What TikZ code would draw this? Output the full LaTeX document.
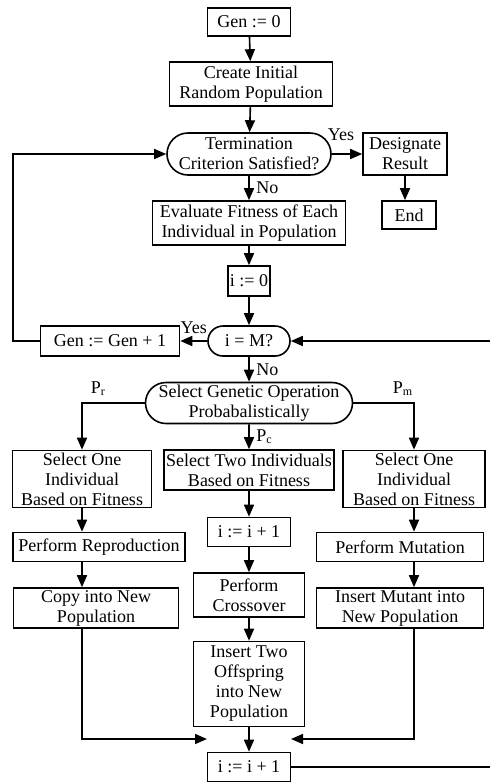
\documentclass[tikz,border=0pt]{standalone}
\usepackage{fontspec}
\setmainfont{Liberation Serif}
\usetikzlibrary{shapes.misc,arrows.meta}
\begin{document}
\begin{tikzpicture}[x=0.5pt,y=-0.5pt,
	every node/.style={font=\fontsize{9}{10}\selectfont},
	box/.style={draw,thick,align=center,inner ysep=0.5pt,inner xsep=1pt},
	term/.style={box,rounded rectangle},
	arr/.style={thick,-{Triangle[length=6pt,width=5pt]}}]
	\useasboundingbox (0,0) rectangle (490,783);
	
	% main column
	\node[box,minimum width=41.5pt,minimum height=14pt] (gen0) at (249,22) {Gen := 0};
	\node[box,minimum width=81.5pt,minimum height=22pt] (create) at (251,84) {Create Initial\\Random Population};
	\node[term,minimum width=84pt,minimum height=21pt] (term) at (249,154) {Termination\\Criterion Satisfied?};
	\node[box,minimum width=42pt,minimum height=21pt] (desig) at (405,154) {Designate\\Result};
	\node[box,minimum width=27pt,minimum height=14pt] (endn) at (409,215) {End};
	\node[box,minimum width=96.5pt,minimum height=22pt] (eval) at (249,223) {Evaluate Fitness of Each\\Individual in Population};
	\node[box,minimum width=21pt,minimum height=15pt] (izero) at (249,281) {i := 0};
	\node[term,minimum width=43pt,minimum height=15pt] (ism) at (249,341) {i = M?};
	\node[box,minimum width=69.5pt,minimum height=15pt] (genup) at (110,341) {Gen := Gen + 1};
	\node[term,minimum width=99pt,minimum height=20.5pt] (sel) at (249,403) {Select Genetic Operation\\Probabalistically};
	
	% three branches
	\node[box,minimum width=69.5pt,minimum height=28.5pt] (one1) at (82,479) {Select One\\Individual\\Based on Fitness};
	\node[box,minimum width=83.5pt,minimum height=20pt] (two) at (249,470) {Select Two Individuals\\Based on Fitness};
	\node[box,minimum width=71pt,minimum height=28.5pt] (one2) at (414,479) {Select One\\Individual\\Based on Fitness};
	\node[box,minimum width=86pt,minimum height=14.5pt] (repro) at (99,547) {Perform Reproduction};
	\node[box,minimum width=41.5pt,minimum height=14.5pt] (i1) at (249,532) {i := i + 1};
	\node[box,minimum width=83.5pt,minimum height=14.5pt] (mut) at (400,547) {Perform Mutation};
	\node[box,minimum width=82.5pt,minimum height=20pt] (copy) at (96,608) {Copy into New\\Population};
	\node[box,minimum width=55.5pt,minimum height=22pt] (cross) at (249,595) {Perform\\Crossover};
	\node[box,minimum width=83.5pt,minimum height=20pt] (mutins) at (400,608) {Insert Mutant into\\New Population};
	\node[box,minimum width=55.5pt,minimum height=42.5pt] (ins2) at (249,684) {Insert Two\\Offspring\\into New\\Population};
	\node[box,minimum width=41.5pt,minimum height=14.5pt] (i2) at (249,767) {i := i + 1};
	\coordinate (jl) at (207,739);
	\coordinate (jr) at (291,739);
	
	\draw[arr] (gen0) -- (create);
	\draw[arr] (create) -- (term);
	\draw[arr] (term) -- node[above=3pt,pos=0.3] {Yes} (desig);
	\draw[arr] (desig.south) -- (desig.south |- endn.north);
	\draw[arr] (term) -- node[right] {No} (eval);
	\draw[arr] (eval) -- (izero);
	\draw[arr] (izero) -- (ism);
	\draw[arr] (ism) -- node[above] {Yes} (genup);
	\draw[arr] (genup.west) -- ++(-27,0) |- (term.west);
	\draw[arr] (ism) -- node[right] {No} (sel);
	\draw[arr] (sel.west) -| node[above,pos=0.37] {P\textsubscript{r}} (one1.north);
	\draw[arr] (sel.east) -| node[above,pos=0.41] {P\textsubscript{m}} (one2.north);
	\draw[arr] (sel) -- node[right] {P\textsubscript{c}} (two);
	
	\draw[arr] (one1.south) -- (one1.south |- repro.north);
	\draw[arr] (one1.south |- repro.south) -- (one1.south |- copy.north);
	\draw[arr] (one1.south |- copy.south) |- (jl);
	\draw[arr] (two) -- (i1);
	\draw[arr] (i1) -- (cross);
	\draw[arr] (cross) -- (ins2);
	\draw[arr] (ins2) -- (i2);
	\draw[arr] (one2.south) -- (one2.south |- mut.north);
	\draw[arr] (one2.south |- mut.south) -- (one2.south |- mutins.north);
	\draw[arr] (one2.south |- mutins.south) |- (jr);
	\draw[arr] (i2.east) -- ++(199,0) |- (ism.east);
\end{tikzpicture}
\end{document}
